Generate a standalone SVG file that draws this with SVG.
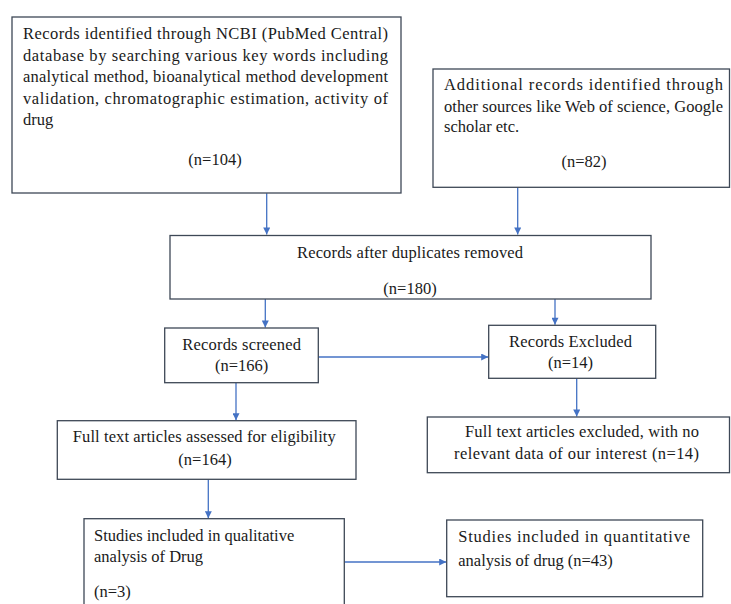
<svg xmlns="http://www.w3.org/2000/svg" width="731" height="604" viewBox="0 0 731 604">
  <defs>
    <marker id="ah" viewBox="0 0 10 10" refX="10" refY="5" markerWidth="8" markerHeight="7" markerUnits="userSpaceOnUse" orient="auto">
      <path d="M0,0 L10,5 L0,10 Z" fill="#4472c4"/>
    </marker>
  </defs>
  <style>
    .box { fill: #ffffff; stroke: #3e4856; stroke-width: 1.3; }
    .t { font-family: "Liberation Serif", "Times New Roman", serif; font-size: 16.5px; fill: #1a1a1a; }
    .c { text-anchor: middle; }
    .conn { stroke: #4472c4; stroke-width: 1.3; fill: none; marker-end: url(#ah); }
  </style>
  <rect width="731" height="604" fill="#ffffff"/>

  <g id="connectors">
    <line class="conn" x1="266.7" y1="193.3" x2="266.7" y2="234.5"/>
    <line class="conn" x1="517.7" y1="187.3" x2="517.7" y2="234.5"/>
    <line class="conn" x1="265.3" y1="299" x2="265.3" y2="327.5"/>
    <line class="conn" x1="555" y1="299" x2="555" y2="324.8"/>
    <line class="conn" x1="318.3" y1="357" x2="488.2" y2="357"/>
    <line class="conn" x1="236" y1="382.7" x2="236" y2="420.2"/>
    <line class="conn" x1="576.7" y1="378.3" x2="576.7" y2="416.5"/>
    <line class="conn" x1="208.3" y1="479.3" x2="208.3" y2="518.2"/>
    <line class="conn" x1="344.3" y1="562" x2="446.2" y2="562"/>
  </g>

  <g id="n1">
    <rect class="box" x="12" y="17" width="389" height="176"/>
    <text class="t" x="23" y="39" textLength="365" lengthAdjust="spacing">Records identified through NCBI (PubMed Central)</text>
    <text class="t" x="23" y="60.5" textLength="365" lengthAdjust="spacing">database by searching various key words including</text>
    <text class="t" x="23" y="82" textLength="365" lengthAdjust="spacing">analytical method, bioanalytical method development</text>
    <text class="t" x="23" y="103.5" textLength="365" lengthAdjust="spacing">validation, chromatographic estimation, activity of</text>
    <text class="t" x="23" y="125">drug</text>
    <text class="t c" x="215" y="165">(n=104)</text>
  </g>

  <g id="n2">
    <rect class="box" x="433" y="69" width="296.5" height="118.3"/>
    <text class="t" x="444" y="90" textLength="279" lengthAdjust="spacing">Additional records identified through</text>
    <text class="t" x="444" y="111.5" textLength="279" lengthAdjust="spacing">other sources like Web of science, Google</text>
    <text class="t" x="444" y="132">scholar etc.</text>
    <text class="t c" x="584" y="167">(n=82)</text>
  </g>

  <g id="n3">
    <rect class="box" x="170" y="235.5" width="481" height="63.5"/>
    <text class="t c" x="410" y="258" textLength="226" lengthAdjust="spacing">Records after duplicates removed</text>
    <text class="t c" x="410" y="294">(n=180)</text>
  </g>

  <g id="n4">
    <rect class="box" x="164.7" y="328" width="153.6" height="54.7"/>
    <text class="t c" x="241.7" y="350" textLength="118.7" lengthAdjust="spacing">Records screened</text>
    <text class="t c" x="241.7" y="371">(n=166)</text>
  </g>

  <g id="n5">
    <rect class="box" x="488.7" y="325.3" width="167" height="53"/>
    <text class="t c" x="570.5" y="347" textLength="123" lengthAdjust="spacing">Records Excluded</text>
    <text class="t c" x="570.5" y="368">(n=14)</text>
  </g>

  <g id="n6">
    <rect class="box" x="427.3" y="417" width="302.2" height="55.7"/>
    <text class="t c" x="582" y="437" textLength="234" lengthAdjust="spacing">Full text articles excluded, with no</text>
    <text class="t c" x="576.5" y="458.5" textLength="245" lengthAdjust="spacing">relevant data of our interest (n=14)</text>
  </g>

  <g id="n7">
    <rect class="box" x="57.3" y="420.7" width="298.7" height="58.6"/>
    <text class="t c" x="204.3" y="441.7" textLength="263" lengthAdjust="spacing">Full text articles assessed for eligibility</text>
    <text class="t c" x="205" y="465">(n=164)</text>
  </g>

  <g id="n8">
    <rect class="box" x="84" y="518.7" width="260.3" height="95"/>
    <text class="t" x="94" y="541">Studies included in qualitative</text>
    <text class="t" x="94" y="562">analysis of Drug</text>
    <text class="t" x="94" y="597">(n=3)</text>
  </g>

  <g id="n9">
    <rect class="box" x="446.7" y="520" width="256" height="76.7"/>
    <text class="t" x="458.3" y="541.5" textLength="231.7" lengthAdjust="spacing">Studies included in quantitative</text>
    <text class="t" x="458.3" y="566">analysis of drug (n=43)</text>
  </g>
</svg>
